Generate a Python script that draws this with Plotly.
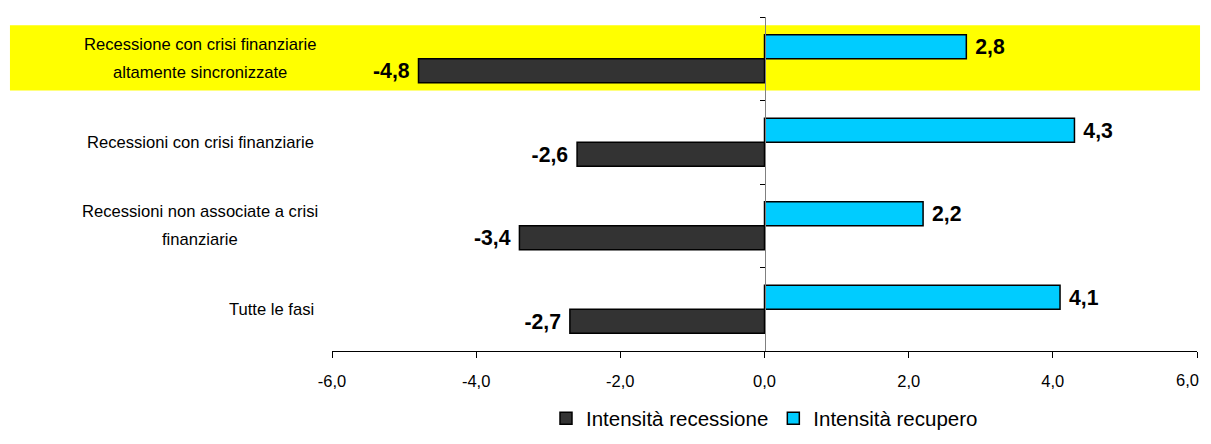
import plotly.graph_objects as go

categories = [
    "Tutte le fasi",
    "Recessioni non associate a crisi<br>finanziarie",
    "Recessioni con crisi finanziarie",
    "Recessione con crisi finanziarie<br>altamente sincronizzate",
]
recessione = [-2.7, -3.4, -2.6, -4.8]
recupero = [4.1, 2.2, 4.3, 2.8]
series_names = ["Intensità recessione", "Intensità recupero"]
x_ticks = [-6, -4, -2, 0, 2, 4, 6]

def fmt(v):
    return f"{v:.1f}".replace(".", ",")

sans = "Liberation Sans, Arial, sans-serif"
nbsp = "\u00a0"

# page body has an 8px margin: figure sized to fit the 1211x444 window
W, H = 1195, 428
L, R, T, B = 324, 6, 9, 85

fig = go.Figure()
fig.add_trace(go.Bar(
    y=list(range(len(categories))), x=recessione, orientation="h", name=series_names[0],
    marker=dict(color="#333333", line=dict(color="#000000", width=1.5)),
    text=[fmt(v) + nbsp for v in recessione], textposition="outside",
    textfont=dict(family=sans, size=23, color="#000000"),
    texttemplate="<b>%{text}</b>", cliponaxis=False,
))
fig.add_trace(go.Bar(
    y=list(range(len(categories))), x=recupero, orientation="h", name=series_names[1],
    marker=dict(color="#00CCFF", line=dict(color="#000000", width=1.5)),
    text=[nbsp + fmt(v) for v in recupero], textposition="outside",
    textfont=dict(family=sans, size=23, color="#000000"),
    texttemplate="<b>%{text}</b>", cliponaxis=False,
))

fig.add_shape(type="rect", xref="paper", yref="y", x0=-0.3723, x1=1.0035, y0=2.62, y1=3.40,
              fillcolor="#FFFF00", line=dict(width=0), layer="below")

for i, c in enumerate(categories):
    lines = c.split("<br>")
    n = len(lines)
    for k, line in enumerate(lines):
        shift = ((n - 1) / 2 - k) * 28
        fig.add_annotation(x=-0.0185 if n == 1 else -0.1526, xref="paper", y=i, yref="y",
                           yshift=shift, text=line, showarrow=False,
                           xanchor="right" if n == 1 else "center", align="center",
                           font=dict(family=sans, size=16.6, color="#000000"))

tick_text = [fmt(v) for v in x_ticks]
main_ticktext = tick_text[:-1] + [""]
tickfont = dict(family=sans, size=16.5, color="#000000")

# last tick label, placed at its axis value but kept inside the page
fig.add_annotation(x=x_ticks[-1], xref="x", y=0, yref="paper", yshift=-29, xshift=4,
                   text=tick_text[-1], showarrow=False, xanchor="right", yanchor="middle",
                   font=tickfont)

fig.update_layout(
    width=W, height=H,
    margin=dict(l=L, r=R, t=T, b=B, autoexpand=False),
    plot_bgcolor="white", paper_bgcolor="white",
    barmode="group", bargap=0.425, bargroupgap=0,
    showlegend=True,
    legend=dict(orientation="h", x=0.5, xanchor="center", y=-0.262, yanchor="bottom",
                font=dict(family=sans, size=20.5, color="#000000"),
                itemwidth=30, traceorder="normal"),
    xaxis=dict(range=[-6, 6], tickvals=x_ticks, ticktext=main_ticktext,
               showgrid=False, zeroline=False, automargin=False,
               showline=True, linecolor="#000000", linewidth=1, ticks="outside", ticklen=6,
               tickcolor="#000000", ticklabelstandoff=9, tickfont=tickfont),
    yaxis=dict(range=[-0.5, 3.5], showgrid=False, zeroline=False, showticklabels=False,
               automargin=False,
               showline=True, linecolor="#808080", linewidth=1, anchor="free", position=0.5,
               tickvals=[-0.5, 0.5, 1.5, 2.5, 3.5], ticks="outside", ticklen=5, tickcolor="#000000"),
)

fig.write_html("out.html")
